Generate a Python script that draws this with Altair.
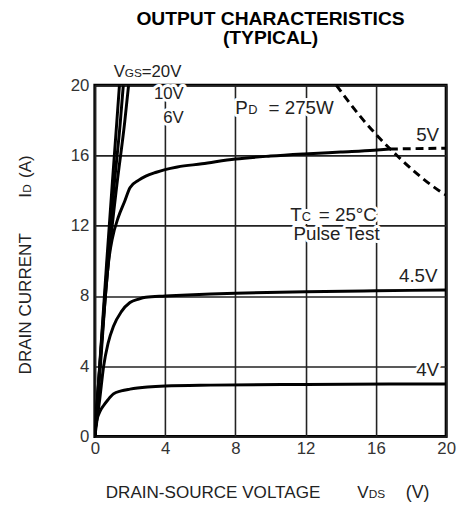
import altair as alt
import pandas as pd

# ---- curves (VDS in V, ID in A) ----
vgs20_vds = [0, 0.3, 0.68, 1.0, 1.25, 1.4]
vgs20_id = [0, 4.4, 10.0, 14.5, 17.9, 20.0]

vgs10_vds = [0, 0.3, 0.72, 1.1, 1.45, 1.62]
vgs10_id = [0, 4.3, 10.0, 14.3, 17.9, 20.0]

vgs6_vds = [0, 0.3, 0.78, 1.25, 1.7, 1.92]
vgs6_id = [0, 4.2, 10.0, 14.3, 17.9, 20.0]

vgs5_vds = [0, 0.35, 0.65, 0.8, 1.0, 1.34, 1.7, 2.0, 2.5, 2.9, 3.5, 4.0, 4.7, 6.1, 8.0, 10.0, 11.9, 14.0, 15.9, 16.8]
vgs5_id = [0, 4.5, 8.6, 10.1, 11.3, 12.5, 13.4, 14.17, 14.6, 14.83, 15.05, 15.2, 15.35, 15.53, 15.8, 15.97, 16.09, 16.2, 16.3, 16.37]
vgs5_tail_vds = [16.8, 20.0]
vgs5_tail_id = [16.37, 16.42]

vgs45_vds = [0, 0.28, 0.5, 0.75, 1.06, 1.5, 2.0, 2.5, 2.9, 4.0, 6.6, 8.0, 12.0, 16.0, 20.0]
vgs45_id = [0, 2.14, 4.0, 5.3, 6.28, 7.1, 7.63, 7.83, 7.93, 8.0, 8.12, 8.16, 8.25, 8.3, 8.35]

vgs4_vds = [0, 0.05, 0.13, 0.3, 0.5, 0.75, 1.06, 1.5, 2.0, 3.0, 4.0, 6.6, 12.0, 20.0]
vgs4_id = [0, 0.6, 1.0, 1.45, 1.77, 2.1, 2.43, 2.6, 2.7, 2.82, 2.88, 2.93, 2.97, 3.0]

pd_vds = [13.75, 14.5, 15.3, 16.2, 17.2, 18.3, 19.6, 20.0]
pd_id = [20.0, 19.0, 18.0, 17.0, 16.0, 15.0, 14.0, 13.75]

x_ticks = [0, 2, 4, 6, 8, 10, 12, 14, 16, 18, 20]
y_ticks = [0, 2, 4, 6, 8, 10, 12, 14, 16, 18, 20]

FONT = "Liberation Sans"
INK = "#222222"


def frame(name, xs, ys):
    return pd.DataFrame({"vds": xs, "id": ys, "s": name, "o": list(range(len(xs)))})


solid = pd.concat([
    frame("20V", vgs20_vds, vgs20_id),
    frame("10V", vgs10_vds, vgs10_id),
    frame("6V", vgs6_vds, vgs6_id),
    frame("5V", vgs5_vds, vgs5_id),
    frame("4.5V", vgs45_vds, vgs45_id),
    frame("4V", vgs4_vds, vgs4_id),
])
dashed = pd.concat([
    frame("5V tail", vgs5_tail_vds, vgs5_tail_id),
    frame("PD", pd_vds, pd_id),
])

xs = alt.Scale(domain=[0, 20], nice=False, zero=False)
ys = alt.Scale(domain=[0, 20], nice=False, zero=False)

x_enc = alt.X("vds:Q", scale=xs, axis=alt.Axis(
    values=x_ticks, labelExpr="datum.value % 4 == 0 ? datum.label : ''",
    title=None, ticks=False, domain=False, grid=True, labelFlush=False,
    labelFontSize=17, labelFont=FONT, labelColor="#333333", labelPadding=4))
y_enc = alt.Y("id:Q", scale=ys, axis=alt.Axis(
    values=y_ticks, labelExpr="datum.value % 4 == 0 ? datum.label : ''",
    title=None, ticks=False, domain=False, grid=True, labelFlush=False,
    labelFontSize=17, labelFont=FONT, labelColor="#333333", labelPadding=6))

lines = alt.Chart(solid).mark_line(color="black", strokeWidth=3, interpolate="monotone", clip=True).encode(
    x=x_enc, y=y_enc, detail="s:N", order="o:Q")
dlines = alt.Chart(dashed).mark_line(color="black", strokeWidth=3, strokeDash=[8, 5], interpolate="monotone", clip=True).encode(
    x="vds:Q", y="id:Q", detail="s:N", order="o:Q")

# annotation pieces: text, x, y (data units, baseline), font size, align
ann = [
    ("V", 1.07, 20.45, 17, "left"),
    ("GS", 1.70, 20.45, 12, "left"),
    ("=20V", 2.67, 20.45, 17, "left"),
    ("10V", 5.06, 19.23, 17, "right"),
    ("6V", 5.06, 17.88, 17, "right"),
    ("P", 8.0, 18.39, 19, "left"),
    ("D", 8.74, 18.39, 13, "left"),
    ("= 275W", 9.89, 18.39, 19, "left"),
    ("5V", 19.6, 16.84, 19, "right"),
    ("T", 11.12, 12.26, 19, "left"),
    ("C", 11.78, 12.26, 13, "left"),
    ("= 25°C", 12.75, 12.26, 19, "left"),
    ("Pulse Test", 13.76, 11.18, 19, "center"),
    ("4.5V", 19.51, 8.78, 19, "right"),
    ("4V", 19.6, 3.47, 19, "right"),
]
ann_df = pd.DataFrame(ann, columns=["t", "x", "y", "fs", "al"])

layers = [lines, dlines]
for al in ["left", "right", "center"]:
    sub = ann_df[ann_df["al"] == al]
    base = alt.Chart(sub).encode(
        x=alt.X("x:Q", scale=xs), y=alt.Y("y:Q", scale=ys), text="t:N",
        size=alt.Size("fs:Q", scale=None, legend=None))
    layers.append(base.mark_text(font=FONT, align=al, baseline="alphabetic", color="white",
                                 stroke="white", strokeWidth=6, strokeJoin="round"))
    layers.append(base.mark_text(font=FONT, align=al, baseline="alphabetic", color=INK))

# axis titles as text pieces (with small-cap subscripts)
xt = pd.DataFrame([
    ("DRAIN-SOURCE VOLTAGE", 0.62, -3.5, 17.3),
    ("V", 14.94, -3.5, 17.3),
    ("DS", 15.59, -3.5, 12),
    ("(V)", 17.7, -3.5, 18),
], columns=["t", "x", "y", "fs"])
layers.append(alt.Chart(xt).mark_text(font=FONT, align="left", baseline="alphabetic", color=INK).encode(
    x=alt.X("x:Q", scale=xs), y=alt.Y("y:Q", scale=ys), text="t:N",
    size=alt.Size("fs:Q", scale=None, legend=None)))

yt = pd.DataFrame([
    ("DRAIN CURRENT", -3.65, 3.54, 17.3),
    ("I", -3.65, 13.6, 17.3),
    ("D", -3.65, 13.88, 12),
    ("(A)", -3.65, 14.72, 17.3),
], columns=["t", "x", "y", "fs"])
layers.append(alt.Chart(yt).mark_text(font=FONT, align="left", baseline="alphabetic", angle=270, color=INK).encode(
    x=alt.X("x:Q", scale=xs), y=alt.Y("y:Q", scale=ys), text="t:N",
    size=alt.Size("fs:Q", scale=None, legend=None)))

chart = alt.layer(*layers).properties(
    width=356, height=356,
    padding={"left": 88, "top": 75, "right": 12, "bottom": 65},
    autosize=alt.AutoSizeParams(type="none"),
    title=alt.TitleParams(["OUTPUT CHARACTERISTICS", "(TYPICAL)"], font=FONT, fontSize=19.5,
                          fontWeight="bold", color="black", anchor="middle", offset=15, lineHeight=20),
).configure_view(stroke="black", strokeWidth=3).configure_axis(
    gridColor="#222222", gridWidth=1.6, gridOpacity=1)

chart.save("out.html", embed_options={"renderer": "svg", "actions": False})
